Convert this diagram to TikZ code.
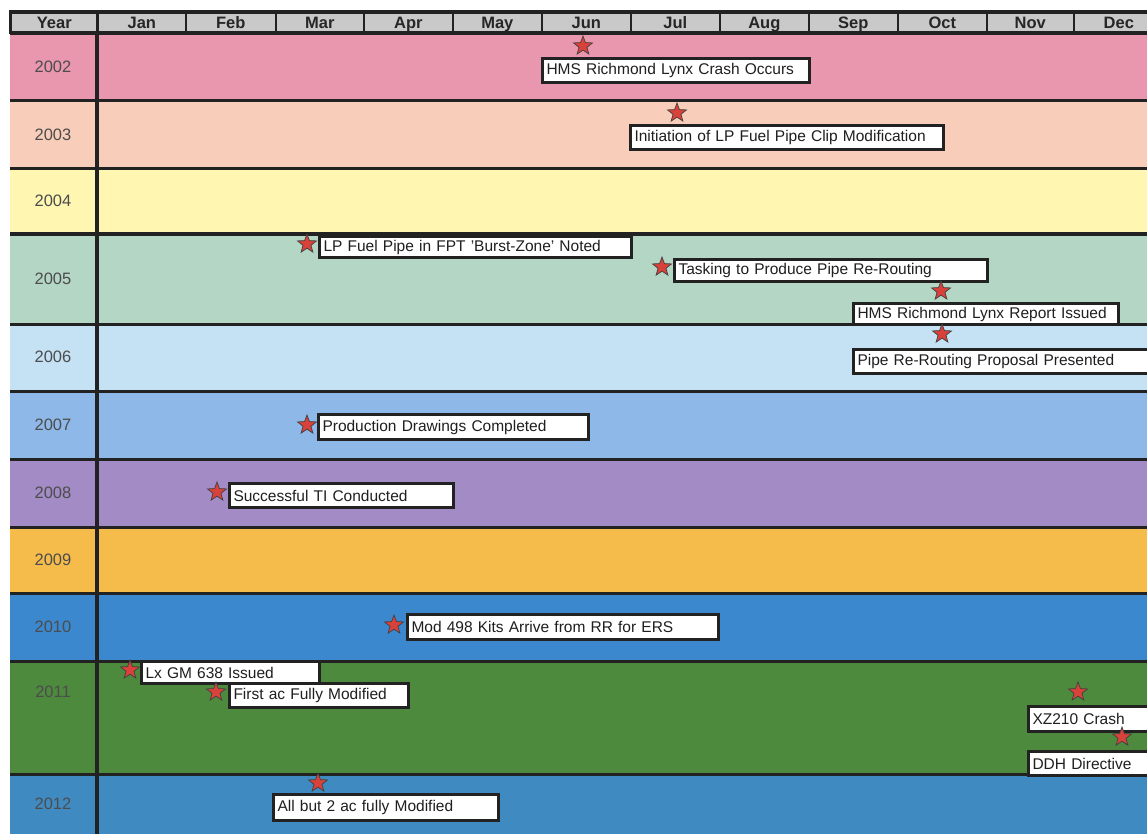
\documentclass[tikz,border=0pt]{standalone}
\usepackage{fontspec}
\setmainfont{Liberation Sans}
\usetikzlibrary{shapes.geometric}
\definecolor{c2002}{HTML}{E897AE}
\definecolor{c2003}{HTML}{F8CDB9}
\definecolor{c2004}{HTML}{FEF6B1}
\definecolor{c2005}{HTML}{B3D6C5}
\definecolor{c2006}{HTML}{C5E1F4}
\definecolor{c2007}{HTML}{8DB8E8}
\definecolor{c2008}{HTML}{A38BC6}
\definecolor{c2009}{HTML}{F6BC4B}
\definecolor{c2010}{HTML}{3B88CF}
\definecolor{c2011}{HTML}{4E8A3D}
\definecolor{c2012}{HTML}{3F8BC1}
\definecolor{hdrgray}{HTML}{C9C9C9}
\definecolor{starred}{HTML}{D8423A}
\definecolor{ink}{HTML}{222222}
\begin{document}
\begin{tikzpicture}[x=1pt,y=-1pt,
  rowline/.style={draw=ink,line width=3pt},
  hdr/.style={draw=ink,line width=1.6pt,fill=hdrgray,anchor=north west,minimum height=21pt,inner sep=0pt,text height=12pt,text depth=2pt,font=\bfseries\fontsize{16.5}{16.5}\selectfont,text=black!85},
  yr/.style={font=\fontsize{16.5}{16.5}\selectfont,text=black!70},
  ev/.style={draw=ink,line width=3pt,fill=white,anchor=north west,inner xsep=4pt,inner ysep=0pt,align=left,font=\fontsize{15.5}{16}\selectfont,text=black!88},
  evstar/.style={star,star points=5,star point ratio=2.4,minimum size=20pt,inner sep=0pt,fill=starred,draw=black!75,line width=0.7pt}
]
\useasboundingbox (0,0) rectangle (1147,834);
\clip (0,0) rectangle (1147,834);
\fill[white] (0,0) rectangle (1147,834);
% rows
\foreach \t/\b/\c in {33/101/c2002,101/169/c2003,169/234/c2004,234/324/c2005,324/391/c2006,391/459/c2007,459/527/c2008,527/593/c2009,593/661/c2010,661/774/c2011,774/840/c2012}
  \fill[\c] (10,\t) rectangle (1160,\b);
\foreach \y in {101,169,234,324,391,459,527,593,661,774}
  \draw[rowline] (10,\y) -- (1160,\y);
\draw[draw=ink,line width=4pt] (97,33) -- (97,840);
% year labels
\node[yr] (y2002) at (53,67) {2002};
\node[yr] (y2003) at (53,135) {2003};
\node[yr] (y2004) at (53,201) {2004};
\node[yr] (y2005) at (53,279) {2005};
\node[yr] (y2006) at (53,357) {2006};
\node[yr] (y2007) at (53,425) {2007};
\node[yr] (y2008) at (53,493) {2008};
\node[yr] (y2009) at (53,560) {2009};
\node[yr] (y2010) at (53,627) {2010};
\node[yr] (y2011) at (53,692) {2011};
\node[yr] (y2012) at (53,804) {2012};
% header
\node[hdr,minimum width=87pt] (hYear) at (10,12) {Year};
\foreach \n/\x/\w in {Jan/97/88,Feb/185/90,Mar/275/88,Apr/363/89,May/452/89,Jun/541/89,Jul/630/89,Aug/719/89,Sep/808/89,Oct/897/89,Nov/986/87,Dec/1073/90}
  \node[hdr,minimum width=\w pt] (h\n) at (\x,12) {\n};
\draw[draw=ink,line width=3pt] (10,12) rectangle (1165,33);
\draw[draw=ink,line width=3pt] (97,12) -- (97,33);
% event boxes
\node[ev,minimum height=24pt,text width=259pt] (b1) at (541,57) {HMS Richmond Lynx Crash Occurs};
\node[ev,minimum height=24pt,text width=305pt] (b2) at (629,124) {Initiation of LP Fuel Pipe Clip Modification};
\node[ev,minimum height=21pt,text width=304pt] (b3) at (318,235) {LP Fuel Pipe in FPT 'Burst-Zone' Noted};
\node[ev,minimum height=22pt,text width=305pt] (b4) at (673,258) {Tasking to Produce Pipe Re-Routing};
\node[ev,minimum height=21pt,text width=257pt] (b5) at (852,302) {HMS Richmond Lynx Report Issued};
\node[ev,minimum height=24pt,text width=302pt] (b6) at (852,348) {Pipe Re-Routing Proposal Presented};
\node[ev,minimum height=25pt,text width=262pt] (b7) at (317,413) {Production Drawings Completed};
\node[ev,minimum height=24pt,text width=216pt] (b8) at (228,482) {Successful TI Conducted};
\node[ev,minimum height=25pt,text width=303pt] (b9) at (406,613) {Mod 498 Kits Arrive from RR for ERS};
\node[ev,minimum height=22pt,text width=170pt] (b10) at (140,660) {Lx GM 638 Issued};
\node[ev,minimum height=24pt,text width=171pt] (b11) at (228,682) {First ac Fully Modified};
\node[ev,minimum height=25pt,text width=122pt] (b12) at (1027,705) {XZ210 Crash};
\node[ev,minimum height=24pt,text width=122pt] (b13) at (1027,750) {DDH Directive};
\node[ev,minimum height=26pt,text width=217pt] (b14) at (272,793) {All but 2 ac fully Modified};
% stars
\node[evstar] (s1) at (583,46) {};
\node[evstar] (s2) at (677,113) {};
\node[evstar] (s3) at (307,244) {};
\node[evstar] (s4) at (662,267) {};
\node[evstar] (s5) at (941,291) {};
\node[evstar] (s6) at (942,334) {};
\node[evstar] (s7) at (307,425) {};
\node[evstar] (s8) at (217,492) {};
\node[evstar] (s9) at (394,625) {};
\node[evstar] (s10) at (130,670) {};
\node[evstar] (s11) at (216,692) {};
\node[evstar] (s12) at (1078,692) {};
\node[evstar] (s13) at (1122,737) {};
\node[evstar] (s14) at (318,783) {};
\end{tikzpicture}
\end{document}
